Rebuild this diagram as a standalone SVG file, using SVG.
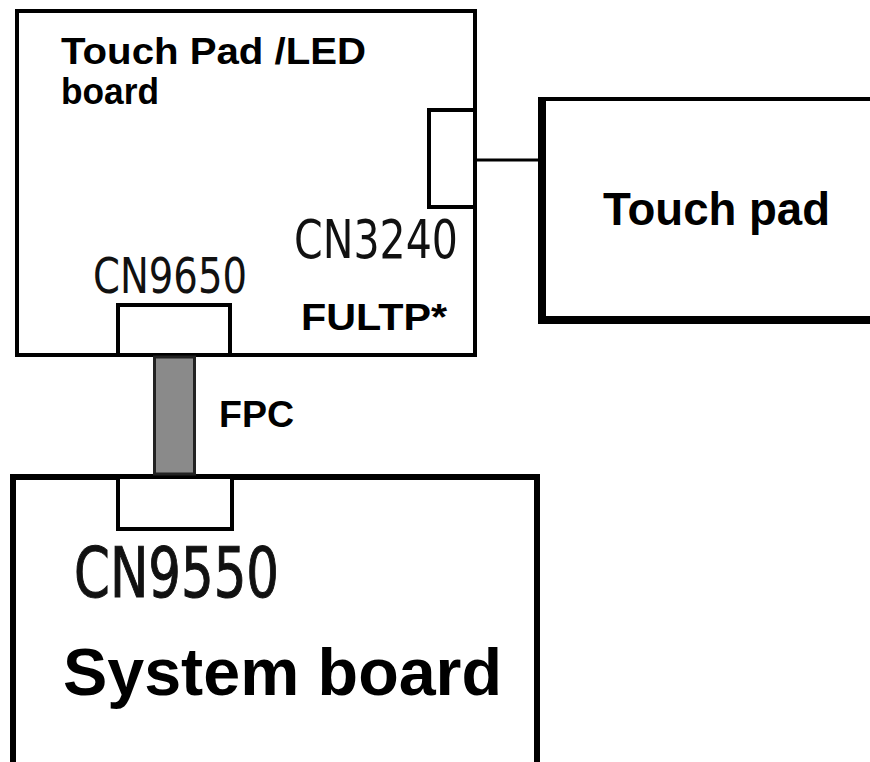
<svg xmlns="http://www.w3.org/2000/svg" width="870" height="762" viewBox="0 0 870 762">
<style>
.box{fill:#fff;stroke:#000}
.conn{fill:#fff;stroke:#000;stroke-width:4}
.lbl{font-family:"Liberation Sans",Arial,sans-serif;font-weight:bold;fill:#000}
.cn{font-family:"DejaVu Sans Condensed","Liberation Sans",sans-serif;fill:#111}
.edge{stroke:#000;fill:none}
</style>
<rect width="870" height="762" fill="#fff"/>
<g id="system-board">
<rect class="box" x="13" y="477" width="524" height="300" stroke-width="6"/>
<rect class="conn" x="118" y="477" width="114" height="52"/>
<text class="cn" x="74" y="597" font-size="70" stroke="#111" stroke-width="1" textLength="205" lengthAdjust="spacingAndGlyphs">CN9550</text>
<text class="lbl" x="63" y="695" font-size="67" textLength="439" lengthAdjust="spacingAndGlyphs">System board</text>
</g>
<g id="touchpad-led-board">
<rect class="box" x="17" y="11" width="458" height="344" stroke-width="4"/>
<text class="lbl" x="61" y="64" font-size="37" textLength="305" lengthAdjust="spacingAndGlyphs">Touch Pad /LED</text>
<text class="lbl" x="61" y="104" font-size="37" textLength="98" lengthAdjust="spacingAndGlyphs">board</text>
<rect class="conn" x="429" y="110" width="46" height="97"/>
<text class="cn" x="294" y="258" font-size="53" textLength="164" lengthAdjust="spacingAndGlyphs">CN3240</text>
<rect class="conn" x="118" y="305" width="112" height="50"/>
<text class="cn" x="93" y="293" font-size="50" textLength="154" lengthAdjust="spacingAndGlyphs">CN9650</text>
<text class="lbl" x="301" y="330" font-size="36" textLength="146" lengthAdjust="spacingAndGlyphs">FULTP*</text>
</g>
<g id="touch-pad">
<rect x="542" y="99" width="340" height="221" fill="#fff"/>
<line class="edge" x1="540" y1="99" x2="870" y2="99" stroke-width="4"/>
<line class="edge" x1="542" y1="97" x2="542" y2="324" stroke-width="8"/>
<line class="edge" x1="538" y1="320" x2="870" y2="320" stroke-width="8"/>
<text class="lbl" x="603" y="225" font-size="47" textLength="227" lengthAdjust="spacingAndGlyphs">Touch pad</text>
</g>
<g id="connectors">
<line x1="477" y1="160" x2="540" y2="160" stroke="#000" stroke-width="3"/>
<rect x="154.5" y="357" width="40" height="117" fill="#8a8a8a" stroke="#222" stroke-width="3"/>
<text class="lbl" x="219" y="427" font-size="37" textLength="75" lengthAdjust="spacingAndGlyphs">FPC</text>
</g>
</svg>
